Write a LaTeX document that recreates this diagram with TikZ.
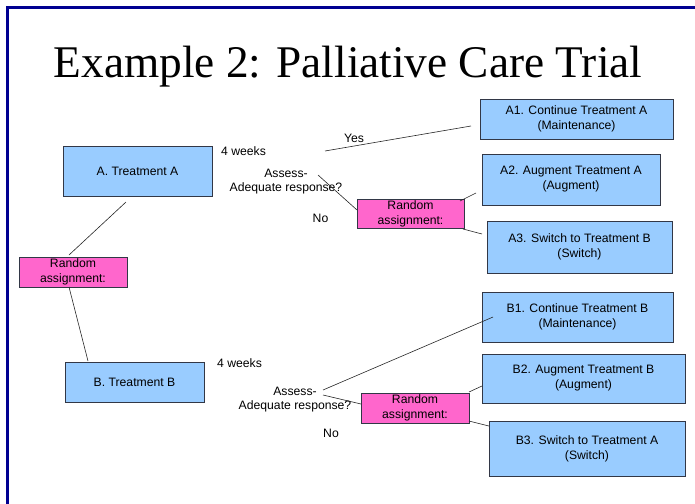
\documentclass[tikz,border=0pt]{standalone}
\usepackage{fontspec}
\setmainfont{Liberation Sans}
\newfontfamily\titlefont{Liberation Serif}
\definecolor{framenavy}{RGB}{0,0,145}
\definecolor{boxblue}{RGB}{153,204,255}
\definecolor{boxpink}{RGB}{255,102,204}
\definecolor{boxedge}{RGB}{50,55,70}
\tikzset{
    treat/.style={draw=boxedge, fill=boxblue, line width=0.9pt, align=center,
        inner sep=0pt, font=\fontsize{12.2}{15}\selectfont},
    randbox/.style={draw=boxedge, fill=boxpink, line width=0.9pt, align=center,
        inner sep=0pt, font=\fontsize{12.2}{15}\selectfont},
    lbl/.style={inner sep=0pt, align=center, font=\fontsize{12.2}{14}\selectfont},
    conn/.style={line width=0.6pt, black!85}
}

\begin{document}
\begin{tikzpicture}[x=1pt, y=-1pt]
        \useasboundingbox (0,0) rectangle (695,503);

        % frame and title
        \draw[framenavy, line width=3pt] (7.5,506) -- (7.5,7.5) -- (698,7.5);
        \node[anchor=base, inner sep=0pt, font=\titlefont\fontsize{45.3}{50}\selectfont]
            (title) at (348,77) {Example 2: Palliative Care Trial};

        % first stage
        \node[treat, minimum width=149pt, minimum height=50pt] (A) at (137.5,171) {A. Treatment A};
        \node[treat, minimum width=139pt, minimum height=40pt] (B) at (134.5,382) {B. Treatment B};
        \node[randbox, minimum width=108pt, minimum height=30pt] (R) at (73,272) {Random\\assignment:};

        % second stage, arm A
        \node[treat, minimum width=193pt, minimum height=40pt] (A1) at (576.5,119) {A1. Continue Treatment A\\(Maintenance)};
        \node[treat, minimum width=178pt, minimum height=51pt] (A2) at (571,179.5) {A2. Augment Treatment A\\(Augment)};
        \node[treat, minimum width=185pt, minimum height=52pt] (A3) at (579.5,247) {A3. Switch to Treatment B\\(Switch)};
        \node[randbox, minimum width=107pt, minimum height=29pt] (RA) at (410.5,213.5) {Random\\assignment:};

        % second stage, arm B
        \node[treat, minimum width=191pt, minimum height=50pt] (B1) at (577.5,317) {B1. Continue Treatment B\\(Maintenance)};
        \node[treat, minimum width=203pt, minimum height=49pt] (B2) at (583.5,378.5) {B2. Augment Treatment B\\(Augment)};
        \node[treat, minimum width=196pt, minimum height=55pt] (B3) at (587,448.5) {B3. Switch to Treatment A\\(Switch)};
        \node[randbox, minimum width=108pt, minimum height=30pt] (RB) at (415,408) {Random\\assignment:};

        % labels
        \node[lbl, anchor=west] (wA) at (221,151) {4 weeks};
        \node[lbl, anchor=west] (wB) at (217,363) {4 weeks};
        \node[lbl] (assA) at (286,182) {Assess-\\Adequate response?};
        \node[lbl] (assB) at (295,400) {Assess-\\Adequate response?};
        \node[lbl] (yesA) at (354,138) {Yes};
        \node[lbl] (noA) at (320.5,218) {No};
        \node[lbl] (noB) at (331,433) {No};

        % connector ends
        \coordinate (a1) at (126,202);
        \coordinate (a2) at (69,255);
        \coordinate (b1) at (69,287);
        \coordinate (b2) at (88,361);
        \coordinate (y1) at (325,151);
        \coordinate (y2) at (471,126);
        \coordinate (n1) at (318,175);
        \coordinate (n2) at (357,210);
        \coordinate (ra1) at (460,201);
        \coordinate (ra2) at (476,193);
        \coordinate (ra3) at (463,229);
        \coordinate (ra4) at (482,234);
        \coordinate (m1) at (323,390);
        \coordinate (m2) at (493,317);
        \coordinate (m3) at (323,395);
        \coordinate (m4) at (361,404);
        \coordinate (rb1) at (469,392);
        \coordinate (rb2) at (482,386);
        \coordinate (rb3) at (469,421);
        \coordinate (rb4) at (489,426);

        \draw[conn] (a1) -- (a2);
        \draw[conn] (b1) -- (b2);
        \draw[conn] (y1) -- (y2);
        \draw[conn] (n1) -- (n2);
        \draw[conn] (ra1) -- (ra2);
        \draw[conn] (ra3) -- (ra4);
        \draw[conn] (m1) -- (m2);
        \draw[conn] (m3) -- (m4);
        \draw[conn] (rb1) -- (rb2);
        \draw[conn] (rb3) -- (rb4);

    \end{tikzpicture}
\end{document}
